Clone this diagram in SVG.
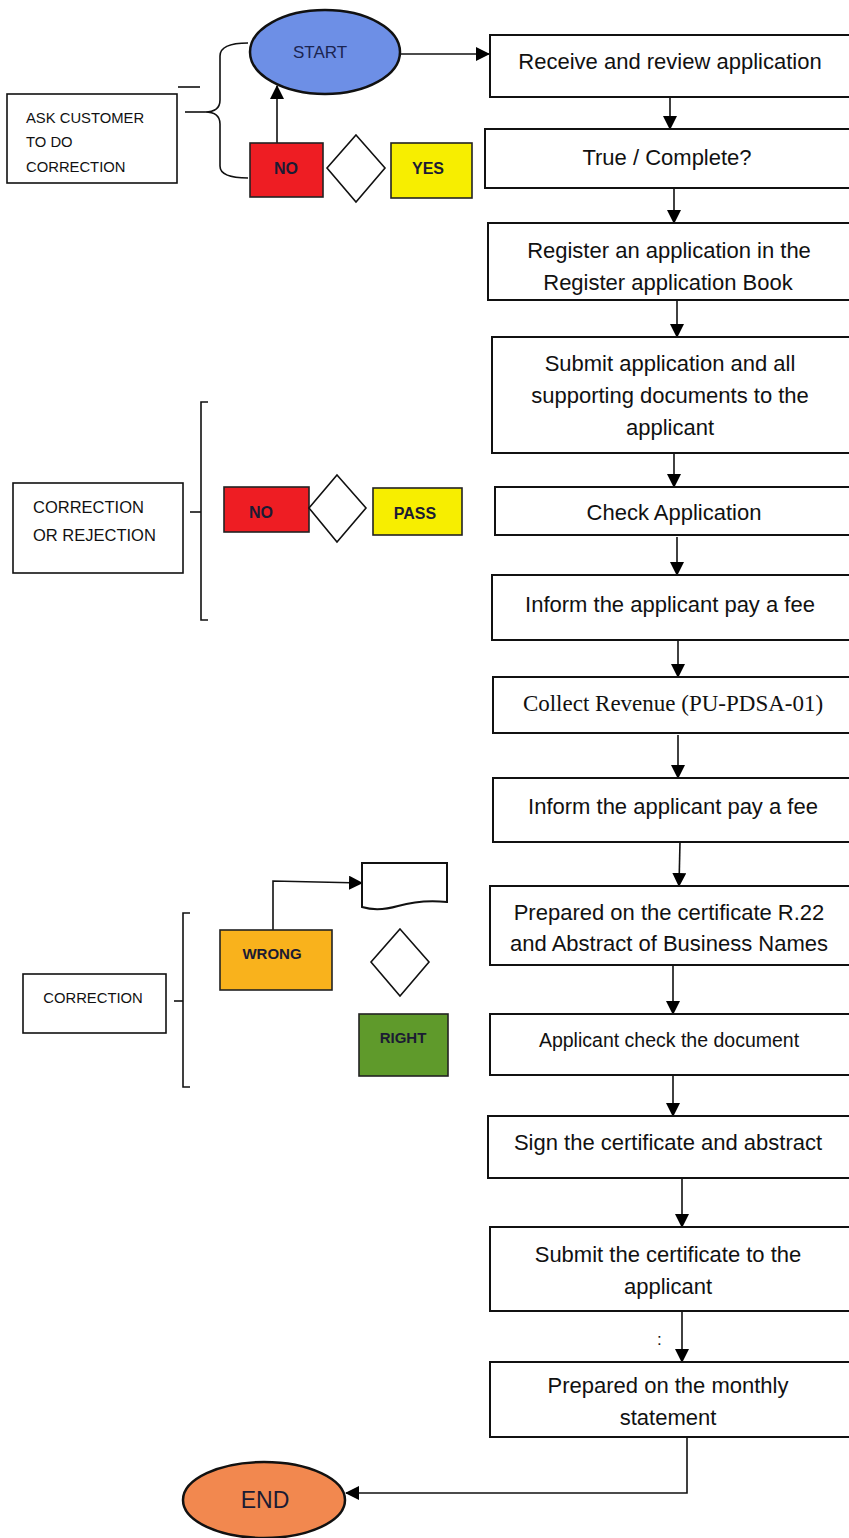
<svg xmlns="http://www.w3.org/2000/svg" width="849" height="1538" viewBox="0 0 849 1538">
<defs>
<marker id="ah" markerUnits="userSpaceOnUse" markerWidth="14" markerHeight="14" refX="13" refY="7" orient="auto">
<path d="M0,0 L14,7 L0,14 Z" fill="#000"/>
</marker>
<style>
.box{fill:#fff;stroke:#111;stroke-width:2}
.t{font-family:"Liberation Sans",Arial,sans-serif;font-size:22px;fill:#111;text-anchor:middle}
.ts{font-family:"Liberation Sans",Arial,sans-serif;font-size:14.8px;fill:#111}
.tb{font-family:"Liberation Sans",Arial,sans-serif;font-size:16px;font-weight:bold;fill:#1b1b33;text-anchor:middle}
.c{fill:none;stroke:#111;stroke-width:1.6}
.ca{fill:none;stroke:#111;stroke-width:1.6;marker-end:url(#ah)}
.dia{fill:#fff;stroke:#111;stroke-width:1.6}
</style>
</defs>
<rect width="849" height="1538" fill="#fff"/>

<g id="connectors">
<line class="ca" x1="400" y1="54" x2="489" y2="54"/>
<line class="ca" x1="670" y1="97" x2="670" y2="129"/>
<line class="ca" x1="674" y1="188" x2="674" y2="223"/>
<line class="ca" x1="677" y1="300" x2="677" y2="337"/>
<line class="ca" x1="674" y1="453" x2="674" y2="487"/>
<line class="ca" x1="677" y1="537" x2="677" y2="575"/>
<line class="ca" x1="678" y1="640" x2="678" y2="677"/>
<line class="ca" x1="678" y1="735" x2="678" y2="778"/>
<line class="ca" x1="680" y1="842" x2="679" y2="886"/>
<line class="ca" x1="673" y1="965" x2="673" y2="1014"/>
<line class="ca" x1="673" y1="1075" x2="673" y2="1116"/>
<line class="ca" x1="682" y1="1178" x2="682" y2="1227"/>
<line class="ca" x1="682" y1="1311" x2="682" y2="1362"/>
<path class="ca" d="M687,1437 V1493 H346"/>
<line class="ca" x1="277" y1="143" x2="277" y2="86"/>
<path class="ca" d="M273,930 V881 L362,883"/>
<line class="c" x1="178" y1="87" x2="200" y2="87"/>
<line class="c" x1="185" y1="112" x2="205" y2="112"/>
<path class="c" d="M248,43 Q220,43 220,56 L220,100 Q220,112 205,112 Q220,112 220,124 L220,166 Q220,178 248,178"/>
<line class="c" x1="190" y1="512" x2="201" y2="512"/>
<path class="c" d="M208,402 H201 V620 H208"/>
<line class="c" x1="174" y1="1001" x2="183" y2="1001"/>
<path class="c" d="M190,913 H183 V1087 H190"/>
</g>

<g id="start">
<ellipse cx="325" cy="52" rx="75" ry="42" fill="#6d8fe6" stroke="#111" stroke-width="2.5"/>
<text x="320" y="52" dy="6" class="tb" style="font-size:17px;font-weight:normal;fill:#1b2450">START</text>
</g>

<g id="n1"><rect class="box" x="490" y="35" width="362" height="62"/>
<text class="t" x="670" y="69">Receive and review application</text></g>

<g id="n2"><rect class="box" x="485" y="129" width="367" height="59"/>
<text class="t" x="667" y="165">True / Complete?</text></g>

<g id="n3"><rect class="box" x="488" y="223" width="364" height="77"/>
<text class="t" x="669" y="258">Register an application in the</text>
<text class="t" x="668" y="290">Register application Book</text></g>

<g id="n4"><rect class="box" x="492" y="337" width="360" height="116"/>
<text class="t" x="670" y="371">Submit application and all</text>
<text class="t" x="670" y="403">supporting documents to the</text>
<text class="t" x="670" y="435">applicant</text></g>

<g id="n5"><rect class="box" x="495" y="487" width="357" height="48"/>
<text class="t" x="674" y="520">Check Application</text></g>

<g id="n6"><rect class="box" x="492" y="575" width="360" height="65"/>
<text class="t" x="670" y="612">Inform the applicant pay a fee</text></g>

<g id="n7"><rect class="box" x="493" y="677" width="359" height="56"/>
<text class="t" x="673" y="711" style="font-family:'Liberation Serif','Times New Roman',serif;font-size:23px">Collect Revenue (PU-PDSA-01)</text></g>

<g id="n8"><rect class="box" x="493" y="778" width="359" height="64"/>
<text class="t" x="673" y="814">Inform the applicant pay a fee</text></g>

<g id="n9"><rect class="box" x="490" y="886" width="362" height="79"/>
<text class="t" x="669" y="920">Prepared on the certificate R.22</text>
<text class="t" x="669" y="951">and Abstract of Business Names</text></g>

<g id="n10"><rect class="box" x="490" y="1014" width="362" height="61"/>
<text class="t" x="669" y="1047" style="font-size:19.5px">Applicant check the document</text></g>

<g id="n11"><rect class="box" x="488" y="1116" width="364" height="62"/>
<text class="t" x="668" y="1150">Sign the certificate and abstract</text></g>

<g id="n12"><rect class="box" x="490" y="1227" width="362" height="84"/>
<text class="t" x="668" y="1262">Submit the certificate to the</text>
<text class="t" x="668" y="1294">applicant</text></g>

<text class="ts" x="657" y="1345" style="font-size:17px">:</text>

<g id="n13"><rect class="box" x="490" y="1362" width="362" height="75"/>
<text class="t" x="668" y="1393">Prepared on the monthly</text>
<text class="t" x="668" y="1425">statement</text></g>

<g id="end">
<ellipse cx="264" cy="1500" rx="81" ry="38" fill="#f2884f" stroke="#111" stroke-width="2.5"/>
<text x="265" y="1508" class="tb" style="font-size:23px;font-weight:normal;fill:#1b1b33">END</text>
</g>

<g id="ask"><rect class="box" x="7" y="94" width="170" height="89" style="stroke-width:1.6"/>
<text class="ts" x="26" y="123">ASK CUSTOMER</text>
<text class="ts" x="26" y="147">TO DO</text>
<text class="ts" x="26" y="172">CORRECTION</text></g>

<g id="no1"><rect x="250" y="143" width="73" height="54" fill="#ee1d23" stroke="#222" stroke-width="1.6"/>
<text class="tb" x="286" y="174">NO</text></g>
<g id="d1"><polygon class="dia" points="356,135 385,168 356,202 327,168"/></g>
<g id="yes1"><rect x="391" y="143" width="81" height="55" fill="#f7ee00" stroke="#222" stroke-width="1.6"/>
<text class="tb" x="428" y="174">YES</text></g>

<g id="corr1"><rect class="box" x="13" y="483" width="170" height="90" style="stroke-width:1.6"/>
<text class="ts" x="33" y="513" style="font-size:16.5px">CORRECTION</text>
<text class="ts" x="33" y="541" style="font-size:16.5px">OR REJECTION</text></g>

<g id="no2"><rect x="224" y="487" width="85" height="45" fill="#ee1d23" stroke="#222" stroke-width="1.6"/>
<text class="tb" x="261" y="518">NO</text></g>
<g id="d2"><polygon class="dia" points="337,475 366,508 337,542 309,508"/></g>
<g id="pass"><rect x="373" y="488" width="89" height="47" fill="#f7ee00" stroke="#222" stroke-width="1.6"/>
<text class="tb" x="415" y="519">PASS</text></g>

<g id="corr2"><rect class="box" x="23" y="974" width="143" height="59" style="stroke-width:1.6"/>
<text class="ts" x="93" y="1003" style="text-anchor:middle;font-size:14.8px">CORRECTION</text></g>

<g id="wrong"><rect x="220" y="930" width="112" height="60" fill="#f9b21c" stroke="#222" stroke-width="1.6"/>
<text class="tb" x="272" y="959" style="font-size:15px">WRONG</text></g>
<g id="doc"><path d="M362,863 H447 V902 C428,900 412,902 398,906 C384,910 372,910 362,907 Z" fill="#fff" stroke="#111" stroke-width="2"/></g>
<g id="d3"><polygon class="dia" points="400,929 429,962 400,996 371,962"/></g>
<g id="right"><rect x="359" y="1014" width="89" height="62" fill="#5f9a2b" stroke="#222" stroke-width="1.6"/>
<text class="tb" x="403" y="1043" style="font-size:15px">RIGHT</text></g>
</svg>
